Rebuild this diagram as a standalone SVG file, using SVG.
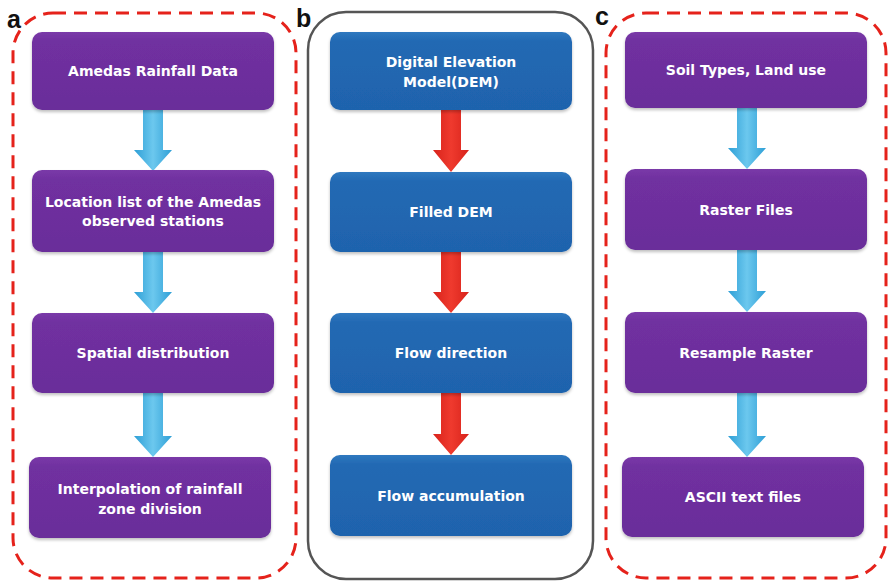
<svg xmlns="http://www.w3.org/2000/svg" width="889" height="582" viewBox="0 0 889 582">
<defs>
<linearGradient id="gp" x1="0" y1="0" x2="0" y2="1"><stop offset="0" stop-color="#7a3aa8"/><stop offset="0.12" stop-color="#7030a0"/><stop offset="1" stop-color="#6a2d9a"/></linearGradient>
<linearGradient id="gb" x1="0" y1="0" x2="0" y2="1"><stop offset="0" stop-color="#2f78bf"/><stop offset="0.12" stop-color="#2269b3"/><stop offset="1" stop-color="#1f63ad"/></linearGradient>
<linearGradient id="gc" x1="0" y1="0" x2="1" y2="0"><stop offset="0" stop-color="#2e9fd6"/><stop offset="0.5" stop-color="#6cc8ee"/><stop offset="1" stop-color="#2e9fd6"/></linearGradient>
<linearGradient id="gr" x1="0" y1="0" x2="1" y2="0"><stop offset="0" stop-color="#d8231b"/><stop offset="0.5" stop-color="#ef3a2e"/><stop offset="1" stop-color="#d8231b"/></linearGradient>
<filter id="sh" x="-5%" y="-10%" width="110%" height="125%"><feDropShadow dx="0" dy="2" stdDeviation="1.5" flood-color="#000" flood-opacity="0.25"/></filter>
</defs>
<style>
.frame-d{fill:none;stroke:#e5221b;stroke-width:3;stroke-dasharray:13 8}
.frame-s{fill:none;stroke:#555;stroke-width:2.5}
.pb{fill:url(#gp);filter:url(#sh)}
.bb{fill:url(#gb);filter:url(#sh)}
.t{font-family:"DejaVu Sans",Verdana,sans-serif;font-weight:bold;font-size:14px;fill:#fff;text-anchor:middle}
.lab{font-family:"Liberation Sans",Arial,sans-serif;font-weight:bold;font-size:25px;fill:#111}
.ac{fill:url(#gc)}
.ar{fill:url(#gr)}
</style>
<rect class="frame-d" x="13" y="13" width="283" height="565" rx="40"/>
<rect class="frame-s" x="308" y="12" width="285" height="567" rx="38"/>
<rect class="frame-d" x="606" y="13" width="280" height="565" rx="40"/>
<text class="lab" x="7" y="28">a</text>
<text class="lab" x="296" y="27">b</text>
<text class="lab" x="595" y="25">c</text>
<g id="connectors">
<path class="ac" d="M143,110 H163 V150 H172 L153,171 L134,150 H143 Z"/>
<path class="ac" d="M143,252 H163 V292 H172 L153,313 L134,292 H143 Z"/>
<path class="ac" d="M143,393 H163 V436 H172 L153,457 L134,436 H143 Z"/>
<path class="ar" d="M441,110 H461 V150 H469 L451,172 L433,150 H441 Z"/>
<path class="ar" d="M441,252 H461 V292 H469 L451,313 L433,292 H441 Z"/>
<path class="ar" d="M441,393 H461 V434 H469 L451,455 L433,434 H441 Z"/>
<path class="ac" d="M737,108 H757 V148 H766 L747,169 L728,148 H737 Z"/>
<path class="ac" d="M737,250 H757 V291 H766 L747,312 L728,291 H737 Z"/>
<path class="ac" d="M737,393 H757 V436 H766 L747,457 L728,436 H737 Z"/>
</g>
<g id="a1"><rect class="pb" x="32" y="32" width="242" height="78" rx="10"/><text class="t" x="153" y="76">Amedas Rainfall Data</text></g>
<g id="a2"><rect class="pb" x="32" y="170" width="242" height="82" rx="10"/><text class="t" x="153" y="207">Location list of the Amedas</text><text class="t" x="153" y="226">observed stations</text></g>
<g id="a3"><rect class="pb" x="32" y="313" width="242" height="80" rx="10"/><text class="t" x="153" y="358">Spatial distribution</text></g>
<g id="a4"><rect class="pb" x="29" y="457" width="242" height="81" rx="10"/><text class="t" x="150" y="494">Interpolation of rainfall</text><text class="t" x="150" y="514">zone division</text></g>
<g id="b1"><rect class="bb" x="330" y="32" width="242" height="78" rx="10"/><text class="t" x="451" y="67">Digital Elevation</text><text class="t" x="451" y="87">Model(DEM)</text></g>
<g id="b2"><rect class="bb" x="330" y="172" width="242" height="80" rx="10"/><text class="t" x="451" y="217">Filled DEM</text></g>
<g id="b3"><rect class="bb" x="330" y="313" width="242" height="80" rx="10"/><text class="t" x="451" y="358">Flow direction</text></g>
<g id="b4"><rect class="bb" x="330" y="455" width="242" height="81" rx="10"/><text class="t" x="451" y="501">Flow accumulation</text></g>
<g id="c1"><rect class="pb" x="625" y="32" width="242" height="76" rx="10"/><text class="t" x="746" y="75">Soil Types, Land use</text></g>
<g id="c2"><rect class="pb" x="625" y="169" width="242" height="81" rx="10"/><text class="t" x="746" y="215">Raster Files</text></g>
<g id="c3"><rect class="pb" x="625" y="312" width="242" height="81" rx="10"/><text class="t" x="746" y="358">Resample Raster</text></g>
<g id="c4"><rect class="pb" x="622" y="457" width="242" height="80" rx="10"/><text class="t" x="743" y="502">ASCII text files</text></g>
</svg>
